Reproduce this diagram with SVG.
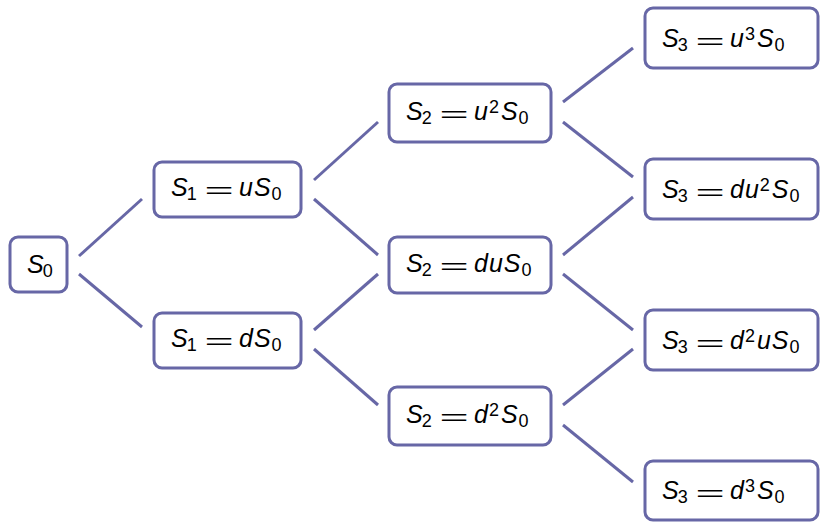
<svg xmlns="http://www.w3.org/2000/svg" width="823" height="522" viewBox="0 0 823 522">
<style>
.box{fill:#fff;stroke:#6767a6;stroke-width:3}
.ln{stroke:#6767a6;stroke-width:3;fill:none}
text{font-family:"Liberation Sans",Arial,sans-serif;font-size:25px;fill:#000}
.i{font-style:italic}
.s{font-size:18px;font-style:normal}
.eq{text-anchor:middle}
.r{letter-spacing:1px}
</style>
<rect width="823" height="522" fill="#fff"/>
<g id="connectors">
<line class="ln" x1="79" y1="256" x2="142" y2="199"/>
<line class="ln" x1="79" y1="274" x2="142" y2="327"/>
<line class="ln" x1="314" y1="180" x2="378" y2="122"/>
<line class="ln" x1="314" y1="199" x2="378" y2="255"/>
<line class="ln" x1="314" y1="330" x2="378" y2="274"/>
<line class="ln" x1="314" y1="349" x2="378" y2="405"/>
<line class="ln" x1="563" y1="102" x2="633" y2="48"/>
<line class="ln" x1="563" y1="122" x2="633" y2="177"/>
<line class="ln" x1="563" y1="255" x2="633" y2="197"/>
<line class="ln" x1="563" y1="274" x2="633" y2="330"/>
<line class="ln" x1="563" y1="405" x2="633" y2="349"/>
<line class="ln" x1="563" y1="425" x2="633" y2="482"/>
</g>
<g id="n0">
<rect class="box" x="10" y="237" width="57" height="55" rx="8"/>
<text x="27" y="273"><tspan class="i">S</tspan><tspan class="s" dx="-1" dy="4">0</tspan></text>
</g>
<g id="n1u">
<rect class="box" x="154" y="162" width="147" height="55" rx="8"/>
<text x="171" y="196"><tspan class="i">S</tspan><tspan class="s" dx="-1" dy="4">1</tspan></text>
<text class="eq" transform="translate(219,198) scale(2,0.85)">=</text>
<text class="r" x="239" y="196"><tspan class="i">uS</tspan><tspan class="s" dy="4">0</tspan></text>
</g>
<g id="n1d">
<rect class="box" x="154" y="313" width="147" height="55" rx="8"/>
<text x="171" y="347"><tspan class="i">S</tspan><tspan class="s" dx="-1" dy="4">1</tspan></text>
<text class="eq" transform="translate(219,349) scale(2,0.85)">=</text>
<text class="r" x="239" y="347"><tspan class="i">dS</tspan><tspan class="s" dy="4">0</tspan></text>
</g>
<g id="n2uu">
<rect class="box" x="389" y="84" width="162" height="58" rx="8"/>
<text x="406" y="120"><tspan class="i">S</tspan><tspan class="s" dx="-1" dy="4">2</tspan></text>
<text class="eq" transform="translate(454,122) scale(2,0.85)">=</text>
<text class="r" x="474" y="120"><tspan class="i">u</tspan><tspan class="s" dy="-7">2</tspan><tspan class="i" dx="1" dy="7">S</tspan><tspan class="s" dy="4">0</tspan></text>
</g>
<g id="n2du">
<rect class="box" x="389" y="237" width="162" height="56" rx="8"/>
<text x="406" y="272"><tspan class="i">S</tspan><tspan class="s" dx="-1" dy="4">2</tspan></text>
<text class="eq" transform="translate(454,274) scale(2,0.85)">=</text>
<text class="r" x="474" y="272"><tspan class="i">duS</tspan><tspan class="s" dy="4">0</tspan></text>
</g>
<g id="n2dd">
<rect class="box" x="389" y="387" width="162" height="58" rx="8"/>
<text x="406" y="423"><tspan class="i">S</tspan><tspan class="s" dx="-1" dy="4">2</tspan></text>
<text class="eq" transform="translate(454,425) scale(2,0.85)">=</text>
<text class="r" x="474" y="423"><tspan class="i">d</tspan><tspan class="s" dy="-7">2</tspan><tspan class="i" dx="1" dy="7">S</tspan><tspan class="s" dy="4">0</tspan></text>
</g>
<g id="n3uuu">
<rect class="box" x="645" y="8" width="173" height="60" rx="8"/>
<text x="662" y="47"><tspan class="i">S</tspan><tspan class="s" dx="-1" dy="4">3</tspan></text>
<text class="eq" transform="translate(710,49) scale(2,0.85)">=</text>
<text class="r" x="730" y="47"><tspan class="i">u</tspan><tspan class="s" dy="-7">3</tspan><tspan class="i" dx="1" dy="7">S</tspan><tspan class="s" dy="4">0</tspan></text>
</g>
<g id="n3duu">
<rect class="box" x="645" y="159" width="173" height="60" rx="8"/>
<text x="662" y="198"><tspan class="i">S</tspan><tspan class="s" dx="-1" dy="4">3</tspan></text>
<text class="eq" transform="translate(710,200) scale(2,0.85)">=</text>
<text class="r" x="730" y="198"><tspan class="i">du</tspan><tspan class="s" dy="-7">2</tspan><tspan class="i" dx="1" dy="7">S</tspan><tspan class="s" dy="4">0</tspan></text>
</g>
<g id="n3ddu">
<rect class="box" x="645" y="310" width="173" height="60" rx="8"/>
<text x="662" y="349"><tspan class="i">S</tspan><tspan class="s" dx="-1" dy="4">3</tspan></text>
<text class="eq" transform="translate(710,351) scale(2,0.85)">=</text>
<text class="r" x="730" y="349"><tspan class="i">d</tspan><tspan class="s" dy="-7">2</tspan><tspan class="i" dx="1" dy="7">uS</tspan><tspan class="s" dy="4">0</tspan></text>
</g>
<g id="n3ddd">
<rect class="box" x="645" y="461" width="173" height="59" rx="8"/>
<text x="662" y="499"><tspan class="i">S</tspan><tspan class="s" dx="-1" dy="4">3</tspan></text>
<text class="eq" transform="translate(710,501) scale(2,0.85)">=</text>
<text class="r" x="730" y="499"><tspan class="i">d</tspan><tspan class="s" dy="-7">3</tspan><tspan class="i" dx="1" dy="7">S</tspan><tspan class="s" dy="4">0</tspan></text>
</g>
</svg>
